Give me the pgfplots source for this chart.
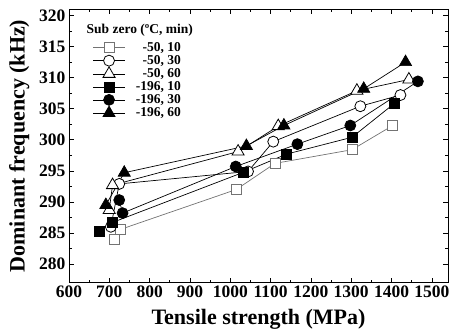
\documentclass[border=0pt]{standalone}
\usepackage{fontspec}
\setmainfont{Liberation Serif}
\usepackage{pgfplots}
\pgfplotsset{compat=1.18}
\begin{document}
\begin{tikzpicture}
\begin{axis}[
  scale only axis,
  width=379pt, height=273.4pt,
  xmin=600, xmax=1540, ymin=277, ymax=321,
  xtick={600,700,...,1500},
  ytick={280,285,...,320},
  minor x tick num=1, minor y tick num=1,
  tick align=inside,
  major tick length=5pt, minor tick length=3pt,
  tick style={black, line width=0.6pt},
  axis line style={line width=0.8pt},
  /pgf/number format/assume math mode=true,
  /pgf/number format/set thousands separator={},
  ticklabel style={font=\bfseries\fontsize{17.5}{17.5}\selectfont},
  xlabel={Tensile strength (MPa)},
  ylabel={Dominant frequency (kHz)},
  label style={font=\bfseries\fontsize{22}{22}\selectfont},
  xlabel style={yshift=-4pt},
  ylabel style={yshift=3pt},
  legend cell align=right,
  legend style={at={(rel axis cs:0.062,0.885)}, anchor=north west, draw=none, fill=none,
    font=\bfseries\fontsize{13.5}{13.5}\selectfont, row sep=-0.5pt, column sep=9pt, inner sep=0pt,
    nodes={inner sep=1.5pt}},
  legend image code/.code={\draw[mark repeat=2,mark phase=2] plot coordinates {(0pt,0pt)(16pt,0pt)(32pt,0pt)};},
  every axis plot/.append style={line width=0.7pt},
]
\addplot[gray!90!black, mark=square*, mark size=5pt, mark options={fill=white, draw=gray!90!black, line width=0.8pt}]
  coordinates {(712,283.9)(728.7,285.6)(1015,292.0)(1110.8,296.2)(1301.8,298.4)(1403,302.3)};
\addlegendentry{-50, 10}
\addplot[black, mark=*, mark size=5.5pt, mark options={fill=white, draw=black, line width=0.8pt}]
  coordinates {(703.8,286.0)(724.6,292.9)(1044,294.9)(1106.6,299.7)(1322.6,305.4)(1422,307.2)};
\addlegendentry{-50, 30}
\addplot[black, mark=triangle*, mark size=7pt, mark options={fill=white, draw=black, line width=0.8pt}]
  coordinates {(699.7,288.7)(708,292.7)(1019.4,298.1)(1119,302.2)(1314,307.9)(1443,309.7)};
\addlegendentry{-50, 60}
\addplot[black, mark=square*, mark size=5pt, mark options={fill=black}]
  coordinates {(674.8,285.3)(708,286.7)(1031.9,294.75)(1139.9,297.7)(1301.8,300.4)(1408,305.9)};
\addlegendentry{-196, 10}
\addplot[black, mark=*, mark size=5.5pt, mark options={fill=black}]
  coordinates {(724.6,290.3)(732.9,288.2)(1013.6,295.7)(1166.4,299.3)(1297.7,302.3)(1465.4,309.4)};
\addlegendentry{-196, 30}
\addplot[black, mark=triangle*, mark size=7pt, mark options={fill=black}]
  coordinates {(691.4,289.5)(737,294.7)(1040,299.0)(1133,302.3)(1331,308.2)(1434.7,312.5)};
\addlegendentry{-196, 60}
\node[anchor=west, font=\bfseries\fontsize{13.5}{13.5}\selectfont, inner sep=0pt] at (rel axis cs:0.046,0.924) {Sub zero (ºC, min)};
\coordinate (sw) at (rel axis cs:0,0);
\coordinate (ne) at (rel axis cs:1,1);
\end{axis}
\pgfresetboundingbox
\path ([xshift=-69pt,yshift=-50.3pt]sw) rectangle ([xshift=3pt,yshift=9.3pt]ne);
\end{tikzpicture}
\end{document}
